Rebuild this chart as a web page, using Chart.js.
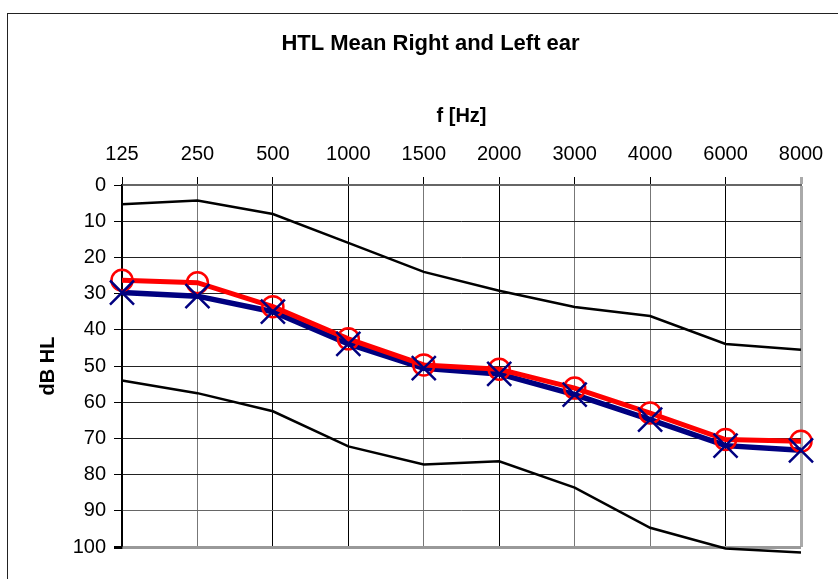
<!DOCTYPE html>
<html>
<head>
<meta charset="utf-8">
<script src="https://cdn.jsdelivr.net/npm/chart.js@4/dist/chart.umd.min.js"></script>
<style>
  html, body { margin: 0; padding: 0; background: #fff; overflow: hidden; }
  #marco { position: absolute; left: 7px; top: 13px; width: 900px; height: 700px; border: 1.5px solid #222; }
  #grafico { position: absolute; left: 0; top: 0; }
</style>
</head>
<body>
<div id="marco"></div>
<canvas id="grafico" width="838" height="579"></canvas>
<script>
// frecuencias (eje superior)
var frecuencias = ['125', '250', '500', '1000', '1500', '2000', '3000', '4000', '6000', '8000'];

// curvas de referencia (negras)
var limiteSuperior = [5.3, 4.3, 8.0, 16.0, 24.0, 29.2, 33.7, 36.2, 43.9, 45.5];
var limiteInferior = [54.0, 57.5, 62.5, 72.2, 77.2, 76.3, 83.6, 94.7, 100.4, 101.5];

// medias
var mediaRoja = [26.3, 27.0, 33.6, 42.5, 49.7, 50.9, 56.1, 63.0, 70.3, 70.8];
var mediaAzul = [29.7, 30.7, 35.0, 43.9, 50.6, 52.2, 57.9, 64.8, 72.0, 73.3];

var fuente = "'Liberation Sans', Arial, sans-serif";

// colores de la rejilla vertical, como en la imagen
var coloresVerticales = ['#000', '#777', '#000', '#000', '#777', '#000', '#777', '#777', '#000', '#aaa'];

var ctx = document.getElementById('grafico').getContext('2d');
new Chart(ctx, {
    type: 'line',
    data: {
        labels: frecuencias,
        datasets: [
            {
                label: 'Superior',
                data: limiteSuperior,
                borderColor: '#000',
                borderWidth: 2.5,
                pointRadius: 0,
                fill: false,
                order: 5
            },
            {
                label: 'Inferior',
                data: limiteInferior,
                borderColor: '#000',
                borderWidth: 2.5,
                pointRadius: 0,
                fill: false,
                clip: false,
                order: 5
            },
            {
                label: 'Azul',
                data: mediaAzul,
                borderColor: '#000080',
                borderWidth: 5.5,
                pointRadius: 0,
                fill: false,
                order: 4
            },
            {
                label: 'Roja',
                data: mediaRoja,
                borderColor: '#ff0000',
                borderWidth: 5,
                pointRadius: 0,
                fill: false,
                order: 3
            },
            {
                label: 'Roja marcas',
                data: mediaRoja,
                showLine: false,
                pointStyle: 'circle',
                pointRadius: 10.5,
                pointBorderWidth: 2.5,
                pointBorderColor: '#ff0000',
                pointBackgroundColor: 'rgba(0,0,0,0)',
                clip: false,
                order: 2
            },
            {
                label: 'Azul marcas',
                data: mediaAzul,
                showLine: false,
                pointStyle: 'crossRot',
                pointRadius: 17,
                pointBorderWidth: 2.5,
                pointBorderColor: '#000080',
                clip: false,
                order: 1
            }
        ]
    },
    options: {
        responsive: false,
        animation: false,
        layout: {
            padding: { left: 60, right: 37, top: 0, bottom: 32 }
        },
        plugins: {
            legend: { display: false },
            tooltip: { enabled: false },
            title: {
                display: true,
                text: 'HTL Mean Right and Left ear',
                color: '#000',
                font: { family: fuente, size: 22, weight: 'bold' },
                padding: { top: 31, bottom: 0 }
            }
        },
        scales: {
            x: {
                type: 'category',
                position: 'top',
                offset: false,
                afterFit: function(scale) { scale.height = 127.6; },
                title: {
                    display: true,
                    text: 'f [Hz]',
                    color: '#000',
                    font: { family: fuente, size: 20, weight: 'bold' },
                    padding: { top: 46.6, bottom: 0 }
                },
                ticks: {
                    color: '#000',
                    font: { family: fuente, size: 20 },
                    padding: 11,
                    maxRotation: 0,
                    autoSkip: false
                },
                grid: {
                    offset: false,
                    tickLength: 8,
                    tickColor: function(c) { return c.index === 9 ? '#aaa' : '#000'; },
                    color: function(c) { return coloresVerticales[c.index] || '#000'; },
                    lineWidth: function(c) { return c.index === 9 ? 3 : 1; }
                },
                border: { color: '#666', width: 2 }
            },
            y: {
                reverse: true,
                min: 0,
                max: 100,
                afterFit: function(scale) { scale.width = 62; },
                title: {
                    display: true,
                    text: 'dB HL',
                    color: '#000',
                    font: { family: fuente, size: 20, weight: 'bold' },
                    padding: { top: -24, bottom: 0 }
                },
                ticks: {
                    stepSize: 10,
                    color: '#000',
                    font: { family: fuente, size: 20 },
                    padding: 8
                },
                grid: {
                    tickLength: 8,
                    tickColor: '#000',
                    color: function(c) {
                        if (c.tick && c.tick.value === 100) return '#999';
                        if (c.tick && c.tick.value === 90) return '#666';
                        return '#222';
                    },
                    lineWidth: function(c) { return c.tick && c.tick.value === 100 ? 3 : 1; }
                },
                border: { color: '#000', width: 1.5 }
            }
        }
    }
});
</script>
</body>
</html>
